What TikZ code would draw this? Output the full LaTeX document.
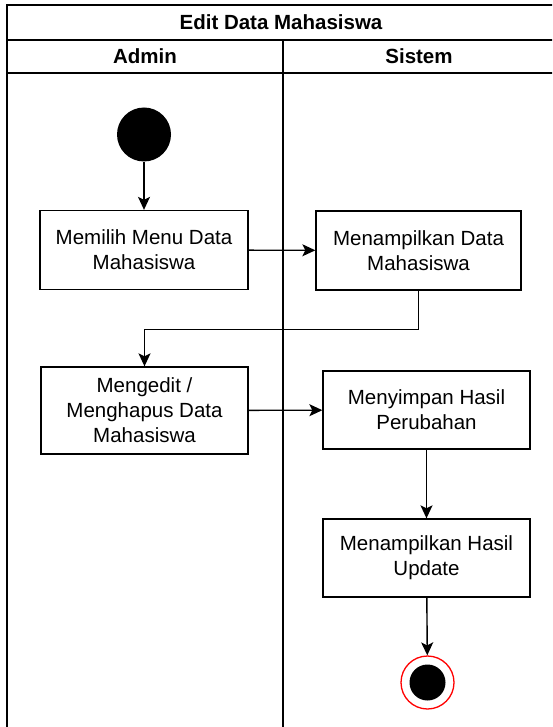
\documentclass[tikz,border=0pt]{standalone}
\usepackage{fontspec}
\setmainfont{Liberation Sans}
\usetikzlibrary{arrows.meta,positioning}

\begin{document}
\begin{tikzpicture}[
    x=1pt, y=-1pt,
    box/.style={rectangle, draw, line width=1.3pt, minimum width=207pt, minimum height=79pt, inner sep=0pt, align=center, font=\fontsize{20.5}{25}\selectfont},
    head/.style={inner sep=0pt, font=\fontsize{20.5}{25}\selectfont\bfseries},
    lane/.style={line width=1.8pt},
    arrow/.style={-{Stealth[length=13pt,width=12pt,inset=3pt]}, line width=1.4pt}
]

\useasboundingbox (0,0) rectangle (552,727);
\clip (0,0) rectangle (552,727);

% Swimlanes
\draw[lane] (7,5) rectangle (555,740);
\draw[lane] (7,40) -- (555,40);
\draw[lane] (7,73) -- (555,73);
\draw[lane] (283,40) -- (283,740);
\node[head] (title) at (281,22.5) {Edit Data Mahasiswa};
\node[head] (admin) at (145,56.5) {Admin};
\node[head] (sistem) at (419,56.5) {Sistem};

% Start
\node[circle, fill=black, minimum size=54pt, inner sep=0pt] (start) at (144,134.5) {};

% Activities
\node[box, minimum width=208pt] (pilih) at (144,250) {Memilih Menu Data\\Mahasiswa};
\node[box, minimum width=205pt] (tampil) at (418.5,250.5) {Menampilkan Data\\Mahasiswa};
\node[box, minimum height=87pt] (edit) at (144.5,410.5) {Mengedit /\\Menghapus Data\\Mahasiswa};
\node[box, minimum height=78pt] (simpan) at (426.5,410) {Menyimpan Hasil\\Perubahan};
\node[box, minimum height=78pt] (update) at (426.5,558) {Menampilkan Hasil\\Update};

% End
\node[circle, draw=red, line width=1.3pt, fill=white, minimum size=53pt, inner sep=0pt] (end) at (427.5,682.5) {};
\node[circle, fill=black, minimum size=36pt, inner sep=0pt] (endDot) at (end) {};

% Arrows
\draw[arrow] (start) -- (pilih);
\draw[arrow] (pilih) -- (tampil);
\draw[arrow] (tampil.south) -- ++(0,39) -| (edit.north);
\draw[arrow] (edit) -- (simpan);
\draw[arrow] (simpan) -- (update);
\draw[arrow] (update) -- (end);

\end{tikzpicture}
\end{document}
